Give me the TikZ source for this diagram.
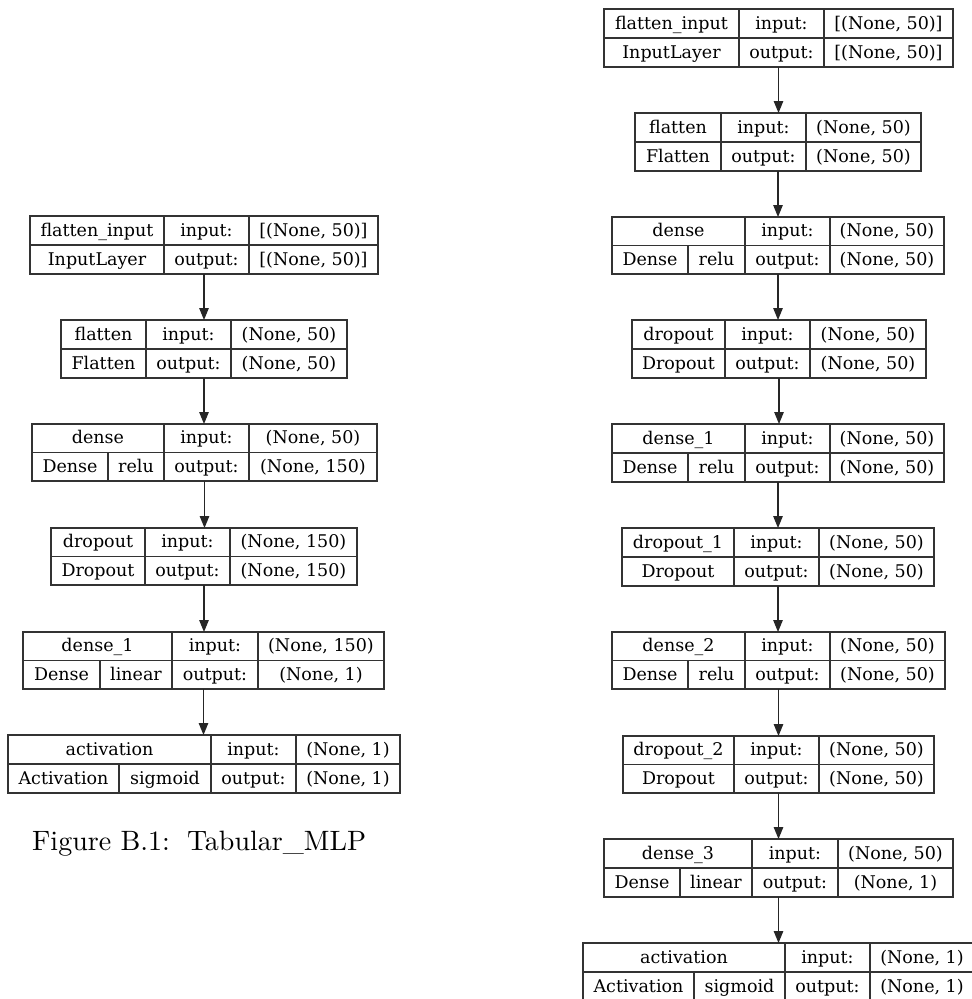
\documentclass[tikz,border=0pt]{standalone}
\usepackage{fontspec}
\newfontfamily\boxfont{DejaVu Serif}
\newfontfamily\capfont{lmroman10-regular}[Extension=.otf]
\usetikzlibrary{arrows.meta}
\tikzset{
  lbox/.style={draw=black!80, line width=1.2pt, inner sep=0pt, outer sep=0pt, rectangle},
  sepline/.style={draw=black!80, line width=1.2pt},
  txt/.style={font=\boxfont\fontsize{17.5}{20}\selectfont, inner sep=0pt, anchor=base, text=black},
  flow/.style={draw=black!85, line width=1.2pt, -{Triangle[length=12pt,width=9.5pt]}},
  capt/.style={font=\capfont\fontsize{28}{32}\selectfont, inner sep=0pt, anchor=base west},
}
\newcount\tcnt
% #1 name, #2 x1, #3 y1, #4 x2, #5 y2, #6 first divider, #7 second divider, #8 extra bottom divider (or empty)
\newcommand\layer[8]{%
  \pgfmathsetmacro\Lmid{((#3)+(#5))/2}%
  \pgfmathsetmacro\Ltop{(3*(#3)+(#5))/4}%
  \pgfmathsetmacro\Lbot{((#3)+3*(#5))/4}%
  \def\Lxa{#2}\def\Lxb{#4}\def\Lda{#6}\def\Ldb{#7}\def\Lde{#8}%
  \node[lbox, minimum width={(#4)-(#2)}, minimum height={(#5)-(#3)}] (#1) at ({((#2)+(#4))/2},{((#3)+(#5))/2}) {};
  \draw[sepline] (#2,\Lmid) -- (#4,\Lmid) (#6,#3) -- (#6,#5) (#7,#3) -- (#7,#5);
  \ifx\relax#8\relax\else \draw[sepline] (#8,\Lmid) -- (#8,#5);\fi
}
\newcommand\celltext[4]{%
  \global\advance\tcnt by 1
  \node[txt] (c\the\tcnt) at ({((#1)+(#2))/2},{(#3)+5.5}) {#4};%
}
\newcommand\cells[4]{%
  \celltext{\Lxa}{\Lda}{\Ltop}{#1}
  \celltext{\Lxa}{\Lda}{\Lbot}{#2}
  \celltext{\Lda}{\Ldb}{\Ltop}{input:}
  \celltext{\Lda}{\Ldb}{\Lbot}{output:}
  \celltext{\Ldb}{\Lxb}{\Ltop}{#3}
  \celltext{\Ldb}{\Lxb}{\Lbot}{#4}%
}
\newcommand\cellsx[5]{%
  \celltext{\Lxa}{\Lda}{\Ltop}{#1}
  \celltext{\Lxa}{\Lde}{\Lbot}{#2}
  \celltext{\Lde}{\Lda}{\Lbot}{#3}
  \celltext{\Lda}{\Ldb}{\Ltop}{input:}
  \celltext{\Lda}{\Ldb}{\Lbot}{output:}
  \celltext{\Ldb}{\Lxb}{\Ltop}{#4}
  \celltext{\Ldb}{\Lxb}{\Lbot}{#5}%
}
\begin{document}
\begin{tikzpicture}[x=1pt,y=-1pt]
\useasboundingbox[fill=white] (0,0) rectangle (972,999);
% ---------- left model ----------
\layer{L1}{30}{216}{378}{274}{164}{249}{}
\cells{flatten\_input}{InputLayer}{[(None, 50)]}{[(None, 50)]}
\layer{L2}{61}{320}{347}{378}{146}{231}{}
\cells{flatten}{Flatten}{(None, 50)}{(None, 50)}
\layer{L3}{32}{424}{377}{481}{164}{249}{108}
\cellsx{dense}{Dense}{relu}{(None, 50)}{(None, 150)}
\layer{L4}{51}{528}{357}{585}{145}{230}{}
\cells{dropout}{Dropout}{(None, 150)}{(None, 150)}
\layer{L5}{23}{632}{384}{689}{172}{258}{100}
\cellsx{dense\_1}{Dense}{linear}{(None, 150)}{(None, 1)}
\layer{L6}{8}{735}{400}{793}{211}{296}{119}
\cellsx{activation}{Activation}{sigmoid}{(None, 1)}{(None, 1)}
\foreach \a/\b in {L1/L2,L2/L3,L3/L4,L4/L5,L5/L6}
  \draw[flow] (\a.south) -- (\a.south |- \b.north);
\node[capt] (caption) at (32,850) {Figure B.1:\, Tabular\_MLP};
% ---------- right model ----------
\layer{R1}{604}{9}{953}{67}{739}{824}{}
\cells{flatten\_input}{InputLayer}{[(None, 50)]}{[(None, 50)]}
\layer{R2}{635}{113}{921}{171}{721}{806}{}
\cells{flatten}{Flatten}{(None, 50)}{(None, 50)}
\layer{R3}{612}{217}{944}{274}{745}{830}{688}
\cellsx{dense}{Dense}{relu}{(None, 50)}{(None, 50)}
\layer{R4}{632}{320}{926}{378}{725}{810}{}
\cells{dropout}{Dropout}{(None, 50)}{(None, 50)}
\layer{R5}{612}{424}{944}{482}{745}{830}{688}
\cellsx{dense\_1}{Dense}{relu}{(None, 50)}{(None, 50)}
\layer{R6}{622}{528}{934}{586}{734}{819}{}
\cells{dropout\_1}{Dropout}{(None, 50)}{(None, 50)}
\layer{R7}{612}{632}{945}{689}{745}{830}{688}
\cellsx{dense\_2}{Dense}{relu}{(None, 50)}{(None, 50)}
\layer{R8}{623}{736}{934}{793}{734}{819}{}
\cells{dropout\_2}{Dropout}{(None, 50)}{(None, 50)}
\layer{R9}{604}{839}{953}{897}{752}{838}{680}
\cellsx{dense\_3}{Dense}{linear}{(None, 50)}{(None, 1)}
\layer{R10}{583}{943}{974}{1001}{785}{870}{694}
\cellsx{activation}{Activation}{sigmoid}{(None, 1)}{(None, 1)}
\foreach \a/\b in {R1/R2,R2/R3,R3/R4,R4/R5,R5/R6,R6/R7,R7/R8,R8/R9,R9/R10}
  \draw[flow] (\a.south) -- (\a.south |- \b.north);
\end{tikzpicture}
\end{document}
